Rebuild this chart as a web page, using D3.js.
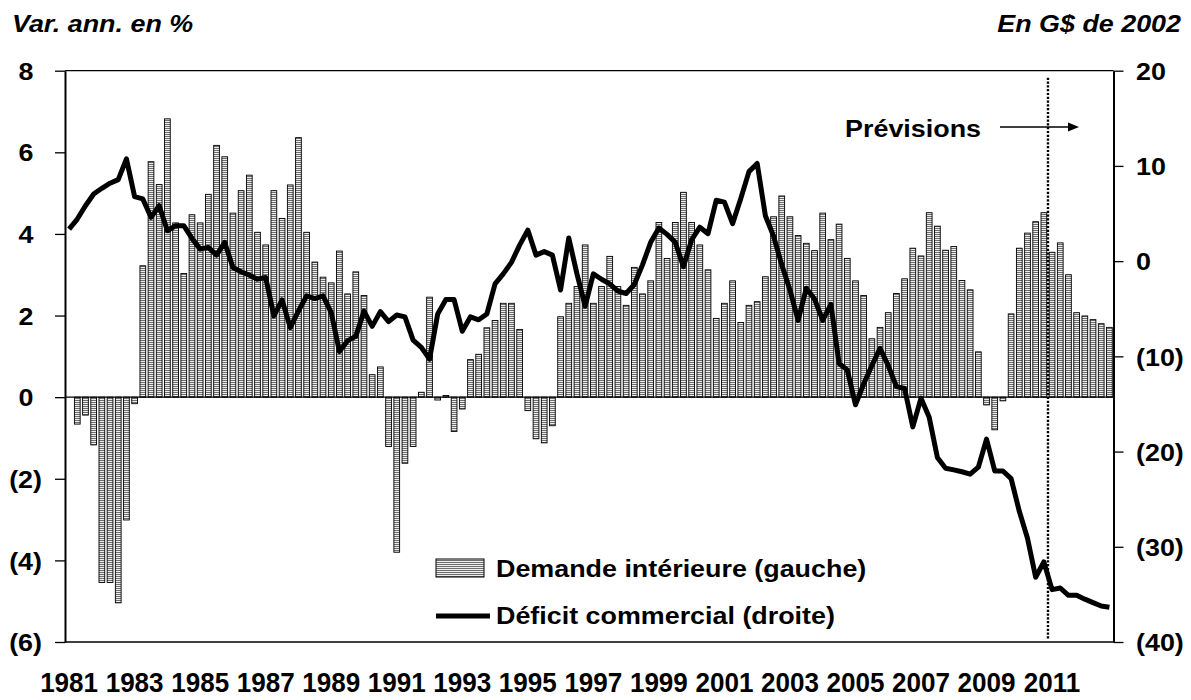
<!DOCTYPE html>
<html><head><meta charset="utf-8">
<script src="https://cdn.jsdelivr.net/npm/d3@7"></script>
<style>
body{margin:0;background:#fff}
svg{display:block}
text{font-family:"Liberation Sans",Arial,sans-serif;font-weight:bold;fill:#000}
</style>
</head><body><svg id="c" width="1191" height="700"></svg>
<script>
// ---- categories (quarters 1981T1 .. 2012T4) ----
const years = d3.range(1981, 2013);
const quarters = years.flatMap(y => [1, 2, 3, 4].map(q => y + "T" + q));
const yearLabels = [1981,1983,1985,1987,1989,1991,1993,1995,1997,1999,2001,2003,2005,2007,2009,2011];
const leftTicks = [-6, -4, -2, 0, 2, 4, 6, 8];
const rightTicks = [-40, -30, -20, -10, 0, 10, 20];
const forecastStart = "2011T1";

// Demande intérieure, var. ann. en % (gauche)
const demande = [null,
 -0.66,-0.44,-1.17,-4.54,-4.54,-5.04,-3.01,-0.16,
 3.22,5.77,5.21,6.82,4.27,3.03,4.47,4.27,
 4.97,6.17,5.89,4.51,5.06,5.44,4.04,3.73,
 5.06,4.38,5.2,6.36,4.04,3.31,2.94,2.8,
 3.58,2.53,3.07,2.49,0.55,0.74,-1.21,-3.8,
 -1.62,-1.21,0.12,2.45,-0.07,0.04,-0.84,-0.29,
 0.92,1.05,1.7,1.88,2.3,2.3,1.66,-0.33,
 -1.02,-1.12,-0.7,1.97,2.3,2.71,3.73,2.3,
 2.71,3.45,2.71,2.25,3.18,2.53,2.85,4.28,
 3.4,4.28,5.02,4.28,3.73,3.12,1.93,2.3,
 2.85,1.83,2.25,2.34,2.95,4.42,4.93,4.42,
 3.96,3.77,3.59,4.51,3.86,4.24,3.4,2.85,
 2.49,1.43,1.71,2.07,2.54,2.9,3.65,3.46,
 4.52,4.19,3.6,3.69,2.86,2.63,1.11,-0.19,
 -0.8,-0.09,2.04,3.65,4.02,4.3,4.52,3.55,
 3.78,3.0,2.07,1.99,1.9,1.8,1.71];

// Déficit commercial, G$ de 2002 (droite)
const deficit = [
 3.37,4.42,5.82,7.05,7.65,8.18,8.56,10.74,
 6.77,6.53,4.6,5.82,3.19,3.72,3.72,2.39,
 1.26,1.44,0.63,1.96,-0.67,-1.12,-1.47,-1.89,
 -1.72,-5.75,-4.07,-6.98,-5.23,-3.65,-3.93,-3.65,
 -5.4,-9.5,-8.35,-7.9,-5.25,-6.85,-5.3,-6.35,
 -5.66,-5.85,-8.3,-9.05,-10.3,-5.55,-4.04,-4.04,
 -7.36,-5.85,-6.16,-5.55,-2.39,-1.34,-0.13,1.68,
 3.26,0.63,1.0,0.63,-3.03,2.43,-1.34,-4.73,
 -1.34,-1.9,-2.39,-3.14,-3.4,-2.46,-0.39,1.98,
 3.48,2.81,1.98,-0.58,2.24,3.56,2.88,6.39,
 6.2,3.94,6.58,9.4,10.26,4.77,2.62,-0.39,
 -3.03,-6.23,-2.84,-3.97,-6.23,-4.54,-10.75,-11.42,
 -15.08,-12.9,-10.97,-9.15,-10.97,-13.18,-13.38,-17.41,
 -14.39,-16.4,-20.63,-21.76,-21.92,-22.12,-22.37,-21.64,
 -18.69,-22.04,-22.04,-22.84,-26.27,-29.1,-33.2,-31.59,
 -34.5,-34.33,-35.1,-35.1,-35.5,-35.86,-36.22,-36.35];

// ---- layout ----
const L = 65, R = 1113.5, T = 70.7, B = 642;
const SX = 1.12;      // horizontal stretch of the original text
const FS = 24;

const svg = d3.select("#c");
const defs = svg.append("defs");
const pat = defs.append("pattern").attr("id", "hatch")
  .attr("patternUnits", "userSpaceOnUse").attr("width", 4).attr("height", 2);
pat.append("rect").attr("width", 4).attr("height", 2).attr("fill", "#ececec");
pat.append("rect").attr("width", 4).attr("height", 1).attr("fill", "#6e6e6e");

const x = d3.scaleBand().domain(quarters).range([L, R]).paddingInner(0.3).paddingOuter(0.15);
const yL = d3.scaleLinear().domain([-6, 8]).range([B, T]);
const yR = d3.scaleLinear().domain([-40, 20]).range([B, T]);
const cx = q => x(q) + x.bandwidth() / 2;

function sText(sel, s) {
  sel.each(function () {
    const t = d3.select(this);
    const xx = +t.attr("x") || 0;
    t.attr("x", xx / s).attr("transform", `scale(${s},1)`);
  });
}
function label(txt, px, py, anchor, size) {
  svg.append("text").attr("transform", `translate(${px},${py}) scale(${SX},1)`)
    .attr("text-anchor", anchor).style("font-size", (size || FS) + "px").text(txt);
}

// bars
const barData = quarters.map((q, i) => ({ q, v: demande[i] })).filter(d => d.v != null);
svg.append("g").selectAll("rect").data(barData).join("rect")
  .attr("x", d => x(d.q)).attr("width", x.bandwidth())
  .attr("y", d => Math.min(yL(d.v), yL(0)))
  .attr("height", d => Math.abs(yL(d.v) - yL(0)))
  .attr("fill", "url(#hatch)").attr("stroke", "#000").attr("stroke-width", 0.9);

// zero line
svg.append("line").attr("x1", L).attr("x2", R).attr("y1", yL(0)).attr("y2", yL(0))
  .attr("stroke", "#000").attr("stroke-width", 1.3);

// forecast dotted separator
const fi = quarters.indexOf(forecastStart);
const xf = (cx(quarters[fi - 1]) + cx(quarters[fi])) / 2;
svg.append("line").attr("x1", xf).attr("x2", xf).attr("y1", T + 7).attr("y2", B - 3)
  .attr("stroke", "#000").attr("stroke-width", 2.4).attr("stroke-dasharray", "2.2,1.6");

// deficit line
const line = d3.line().x((d, i) => cx(quarters[i])).y(d => yR(d));
svg.append("path").datum(deficit).attr("d", line)
  .attr("fill", "none").attr("stroke", "#000").attr("stroke-width", 5)
  .attr("stroke-linejoin", "round");

// frame top / bottom
svg.append("line").attr("x1", L).attr("x2", R).attr("y1", T).attr("y2", T).attr("stroke", "#000").attr("stroke-width", 1.3);
svg.append("line").attr("x1", L).attr("x2", R).attr("y1", B).attr("y2", B).attr("stroke", "#000").attr("stroke-width", 1.3);

const fmt = v => v < 0 ? `(${-v})` : `${v}`;

// left axis
const gl = svg.append("g").attr("transform", `translate(${L},0)`)
  .call(d3.axisLeft(yL).tickValues(leftTicks).tickFormat(fmt).tickSize(10).tickSizeOuter(0));
gl.select(".domain").attr("stroke-width", 2);
gl.selectAll(".tick line").attr("stroke-width", 1.3);
gl.selectAll(".tick text").style("font-size", FS + "px").attr("font-family", null)
  .attr("x", d => d < 0 ? -23 : -31.5).attr("dy", "0.36em");
sText(gl.selectAll(".tick text"), SX);

// right axis
const gr = svg.append("g").attr("transform", `translate(${R},0)`)
  .call(d3.axisRight(yR).tickValues(rightTicks).tickFormat(fmt).tickSize(10).tickSizeOuter(0));
gr.select(".domain").attr("stroke-width", 2);
gr.selectAll(".tick line").attr("stroke-width", 1.3);
gr.selectAll(".tick text").style("font-size", FS + "px").attr("font-family", null)
  .attr("x", 22.5).attr("dy", "0.36em");
sText(gr.selectAll(".tick text"), SX);

// bottom axis (year labels)
const yearQ = yearLabels.map(y => y + "T1");
const gb = svg.append("g").attr("transform", `translate(0,${B})`)
  .call(d3.axisBottom(x).tickValues(yearQ).tickFormat(q => q.slice(0, 4)).tickSize(0));
gb.select(".domain").remove();
gb.selectAll(".tick text").style("font-size", "27px").attr("font-family", null)
  .attr("y", 50).attr("dy", 0);
sText(gb.selectAll(".tick text"), 0.965);
svg.selectAll(".tick text").attr("fill", "#000");

// titles
svg.append("text").attr("transform", `translate(12,32) scale(${SX},1)`)
  .style("font-size", FS + "px").style("font-style", "italic").text("Var. ann. en %");
svg.append("text").attr("transform", `translate(1181,32) scale(${SX},1)`)
  .attr("text-anchor", "end").style("font-size", FS + "px").style("font-style", "italic").text("En G$ de 2002");

// Prévisions annotation
label("Prévisions", 981, 137, "end");
svg.append("line").attr("x1", 1000).attr("x2", 1070).attr("y1", 127).attr("y2", 127)
  .attr("stroke", "#000").attr("stroke-width", 1.3);
svg.append("path").attr("d", "M1079,127 L1068,122.5 L1068,131.5 Z").attr("fill", "#000");

// legend
svg.append("rect").attr("x", 436).attr("y", 559).attr("width", 48).attr("height", 18)
  .attr("fill", "url(#hatch)").attr("stroke", "#000").attr("stroke-width", 1);
label("Demande intérieure (gauche)", 496, 577, "start");
svg.append("line").attr("x1", 436).attr("x2", 490).attr("y1", 616).attr("y2", 616)
  .attr("stroke", "#000").attr("stroke-width", 5);
label("Déficit commercial (droite)", 496, 624, "start");
</script>
</body></html>
